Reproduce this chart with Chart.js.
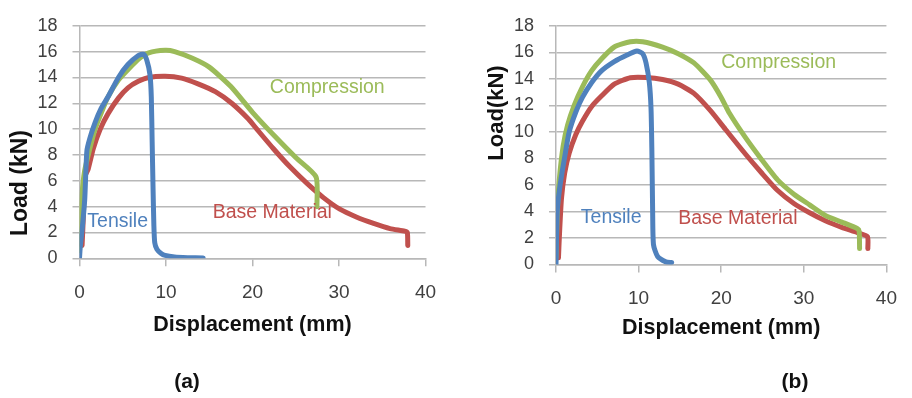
<!DOCTYPE html>
<html>
<head>
<meta charset="utf-8">
<script src="https://cdn.jsdelivr.net/npm/chart.js@4.4.1/dist/chart.umd.min.js"></script>
<style>
  html, body { margin: 0; padding: 0; background: #ffffff; }
  #wrap { position: relative; width: 912px; height: 398px; background: #ffffff; overflow: hidden; }
  canvas { position: absolute; top: 0; }
  #ca { left: 0; }
  #cb { left: 456px; }
</style>
</head>
<body>
<div id="wrap">
  <canvas id="ca" width="456" height="398"></canvas>
  <canvas id="cb" width="456" height="398"></canvas>
</div>
<script>
// ---------- DATA ----------
const xTicks = [0, 10, 20, 30, 40];
const yTicks = [0, 2, 4, 6, 8, 10, 12, 14, 16, 18];
const seriesNames = ['Tensile', 'Compression', 'Base Material'];

// Panel (a): [displacement mm, load kN]
const tensileA = [[0,0],[0.1,1.0],[0.3,2.2],[0.6,4.5],[0.85,8.3],[1.2,9.3],[1.8,10.5],[2.5,11.6],[3.3,12.5],[4.5,14.0],[5.6,15.0],[6.8,15.7],[7.4,15.8],[7.8,15.3],[8.15,14.2],[8.3,12.5],[8.4,9.0],[8.5,5.5],[8.6,2.5],[8.7,1.2],[8.95,0.7],[9.4,0.4],[9.9,0.22],[11,0.1],[12.5,0.05],[14.3,0.02]];
const compressionA = [[0,0.6],[0.15,2.5],[0.3,5.0],[0.6,6.8],[1.2,8.5],[1.8,10.0],[2.6,11.4],[3.3,12.5],[4.5,13.8],[5.6,14.6],[6.8,15.4],[8.0,15.9],[9.9,16.1],[11.0,16.0],[13.0,15.5],[15.0,14.8],[17.5,13.3],[20.0,11.3],[22.5,9.5],[25.0,7.8],[27.35,6.3],[27.45,4.0]];
const baseA = [[0.3,1.0],[0.45,3.3],[0.6,6.3],[1.0,6.9],[1.6,8.5],[2.4,10.0],[3.3,11.2],[4.5,12.4],[5.6,13.2],[6.8,13.7],[8.0,14.0],[9.9,14.1],[11.8,13.95],[13.7,13.5],[15.7,12.9],[17.6,12.0],[19.5,10.8],[20.5,10.0],[22.4,8.5],[24.3,7.1],[26.3,5.8],[28.2,4.7],[30.1,3.8],[32.0,3.2],[34.0,2.7],[35.9,2.3],[37.6,2.1],[37.9,2.0],[37.95,1.0]];

// Panel (b): [displacement mm, load kN]
const tensileB = [[0,0],[0.15,4.0],[0.5,6.0],[1.05,8.1],[1.6,10.0],[2.4,11.5],[3.2,12.6],[4.3,13.7],[5.5,14.6],[7.05,15.3],[8.6,15.8],[9.8,16.1],[10.5,15.9],[10.9,15.2],[11.3,13.7],[11.5,11.8],[11.6,8.8],[11.7,4.0],[11.8,1.5],[12.3,0.6],[13.3,0.2],[14.0,0.15]];
const compressionB = [[0,0.5],[0.16,4.0],[0.4,6.4],[0.86,8.9],[1.4,10.5],[2.2,12.0],[3.2,13.4],[4.3,14.6],[5.5,15.5],[7.05,16.4],[9.0,16.8],[10.5,16.8],[12.9,16.4],[14.8,15.9],[16.7,15.2],[18.7,13.9],[20.0,12.6],[21.0,11.4],[22.9,9.6],[24.9,7.9],[26.8,6.4],[28.8,5.3],[30.7,4.5],[32.6,3.7],[34.6,3.2],[36.5,2.7],[36.7,2.5],[36.75,1.2]];
const baseB = [[0.3,0.5],[0.4,2.0],[0.66,4.95],[1.05,6.9],[1.6,8.4],[2.4,9.8],[3.2,10.8],[4.3,11.9],[5.5,12.7],[7.05,13.6],[9.0,14.08],[10.9,14.1],[12.9,13.95],[14.8,13.6],[16.7,12.9],[18.7,11.6],[20.5,10.2],[22.9,8.35],[24.9,6.9],[26.8,5.6],[28.8,4.6],[30.7,3.9],[32.6,3.3],[34.6,2.8],[36.5,2.4],[37.7,2.1],[37.75,1.2]];

// ---------- STYLE ----------
const colors = { Tensile: '#4F81BD', Compression: '#9BBB59', 'Base Material': '#C0504D' };
const FONT = "'Liberation Sans', Arial, sans-serif";
const gridColor = '#b8b8b8';

const textPlugin = {
  id: 'extraText',
  afterDatasetsDraw(chart, args, opts) {
    const ctx = chart.ctx;
    const xs = chart.scales.x, ys = chart.scales.y;
    (opts.labels || []).forEach(l => {
      ctx.save();
      ctx.font = l.font; ctx.fillStyle = l.color;
      ctx.textBaseline = 'middle'; ctx.textAlign = 'left';
      ctx.fillText(l.text, xs.getPixelForValue(l.x), ys.getPixelForValue(l.y));
      ctx.restore();
    });
    (opts.fixed || []).forEach(t => {
      ctx.save();
      ctx.font = t.font; ctx.fillStyle = t.color;
      ctx.textBaseline = 'middle'; ctx.textAlign = 'center';
      ctx.translate(t.px, t.py);
      if (t.rotate) ctx.rotate(t.rotate);
      ctx.fillText(t.text, 0, 0);
      ctx.restore();
    });
  }
};

function toPts(arr) { return arr.map(p => ({ x: p[0], y: p[1] })); }

function makeChart(id, series, geom, annos, fixed) {
  const datasets = seriesNames.map((name, i) => ({
    label: name,
    data: toPts(series[i]),
    showLine: true,
    borderColor: colors[name],
    backgroundColor: colors[name],
    borderWidth: 5,
    pointRadius: 0,
    tension: 0.2,
    borderJoinStyle: 'round',
    borderCapStyle: 'round'
  }));
  return new Chart(document.getElementById(id), {
    type: 'scatter',
    data: { datasets },
    options: {
      responsive: false,
      animation: false,
      layout: { padding: { left: 0, top: geom.top, right: geom.right, bottom: geom.bottom } },
      plugins: {
        legend: { display: false },
        tooltip: { enabled: false },
        extraText: { labels: annos, fixed: fixed }
      },
      scales: {
        x: {
          type: 'linear', min: 0, max: 40,
          afterBuildTicks: s => { s.ticks = xTicks.map(v => ({ value: v })); },
          afterFit: s => { s.height = geom.xh; },
          grid: { drawOnChartArea: false, drawTicks: true, tickLength: 8, color: gridColor, lineWidth: 1.5 },
          border: { display: true, color: gridColor, width: 1.5 },
          ticks: { color: '#404040', font: { family: FONT, size: 19 }, padding: 15, maxRotation: 0 },
          title: { display: true, text: geom.xtitle, color: '#111', font: { family: FONT, size: 21.5, weight: 'bold' }, padding: { top: 0, bottom: 0 } }
        },
        y: {
          type: 'linear', min: 0, max: 18,
          afterBuildTicks: s => { s.ticks = yTicks.map(v => ({ value: v })); },
          afterFit: s => { s.width = geom.yw; },
          grid: { drawOnChartArea: true, drawTicks: true, tickLength: 7, color: gridColor, lineWidth: 1.5 },
          border: { display: true, color: gridColor, width: 1.5 },
          ticks: { color: '#404040', font: { family: FONT, size: 18 }, padding: 15 }
        }
      }
    },
    plugins: [textPlugin]
  });
}

const annoFont = `19.5px ${FONT}`;
makeChart('ca', [tensileA, compressionA, baseA],
  { top: 15, right: 30.5, bottom: 60, xh: 79.7, yw: 79.5, xtitle: 'Displacement (mm)' },
  [
    { text: 'Tensile', x: 0.9, y: 2.85, color: colors.Tensile, font: annoFont },
    { text: 'Base Material', x: 15.4, y: 3.55, color: colors['Base Material'], font: annoFont },
    { text: 'Compression', x: 22.0, y: 13.2, color: colors.Compression, font: annoFont }
  ],
  [
    { text: 'Load (kN)', px: 21, py: 183, rotate: -Math.PI / 2, color: '#111', font: `bold 23px ${FONT}` },
    { text: '(a)', px: 187, py: 382, color: '#111', font: `bold 21px ${FONT}` }
  ]);

makeChart('cb', [tensileB, compressionB, baseB],
  { top: 17.3, right: 12, bottom: 57.4, xh: 76.1, yw: 100, xtitle: 'Displacement (mm)' },
  [
    { text: 'Tensile', x: 3.0, y: 3.54, color: colors.Tensile, font: annoFont },
    { text: 'Base Material', x: 14.8, y: 3.47, color: colors['Base Material'], font: annoFont },
    { text: 'Compression', x: 20.0, y: 15.2, color: colors.Compression, font: annoFont }
  ],
  [
    { text: 'Load(kN)', px: 41, py: 113, rotate: -Math.PI / 2, color: '#111', font: `bold 22px ${FONT}` },
    { text: '(b)', px: 339, py: 382, color: '#111', font: `bold 21px ${FONT}` }
  ]);
</script>
</body>
</html>
